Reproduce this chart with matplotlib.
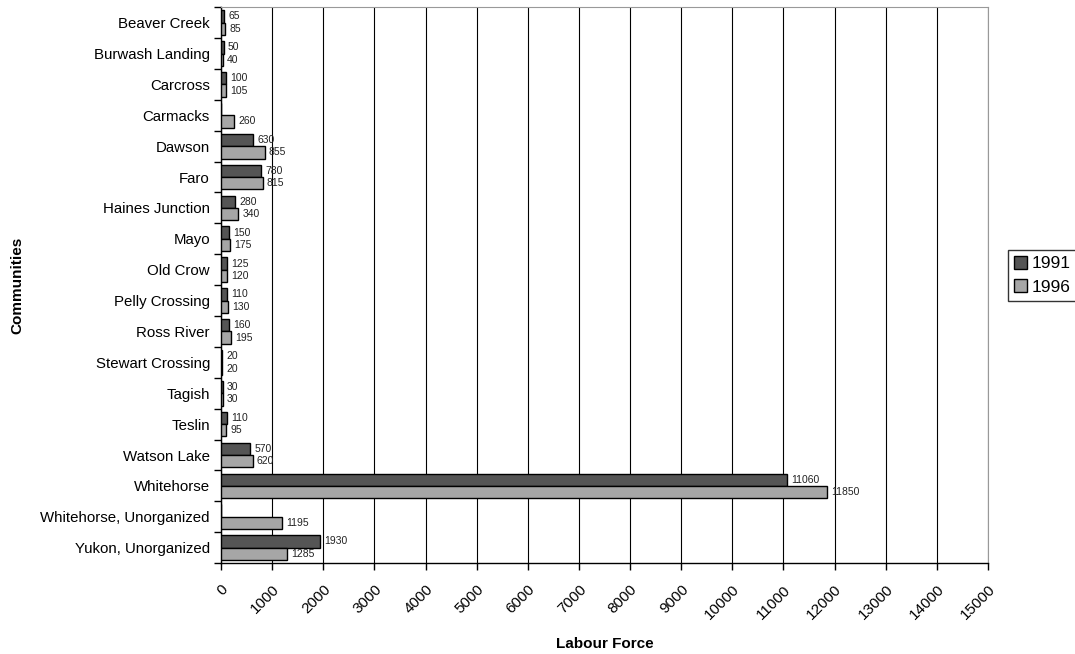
import numpy as np
import matplotlib
matplotlib.use("Agg")
import matplotlib.pyplot as plt
from matplotlib.patches import Patch

plt.rcParams["font.family"] = ["Liberation Sans", "DejaVu Sans"]

communities = [
    "Beaver Creek", "Burwash Landing", "Carcross", "Carmacks", "Dawson",
    "Faro", "Haines Junction", "Mayo", "Old Crow", "Pelly Crossing",
    "Ross River", "Stewart Crossing", "Tagish", "Teslin", "Watson Lake",
    "Whitehorse", "Whitehorse, Unorganized", "Yukon, Unorganized",
]
# None = no figure reported for that year
labour_1991 = [65, 50, 100, None, 630, 780, 280, 150, 125, 110, 160, 20, 30,
               110, 570, 11060, None, 1930]
labour_1996 = [85, 40, 105, 260, 855, 815, 340, 175, 120, 130, 195, 20, 30,
               95, 620, 11850, 1195, 1285]
x_ticks = list(range(0, 15001, 1000))

fig = plt.figure(figsize=(10.75, 6.54), dpi=100)
ax = fig.add_axes([0.2056, 0.139, 0.7135, 0.850])

y = np.arange(len(communities))
h = 0.4
v91 = np.array([np.nan if v is None else v for v in labour_1991], dtype=float)
v96 = np.array(labour_1996, dtype=float)

ax.barh(y - h / 2, np.nan_to_num(v91), height=h, color="#555555",
        edgecolor="black", linewidth=1, zorder=3)
ax.barh(y + h / 2, v96, height=h, color="#a6a6a6",
        edgecolor="black", linewidth=1, zorder=3)

for yi, v in zip(y, v91):
    if not np.isnan(v):
        ax.annotate(f"{int(v)}", (v, yi - h / 2), xytext=(3, 0),
                    textcoords="offset points", va="center", ha="left",
                    fontsize=7.5, color="#222222")
for yi, v in zip(y, v96):
    ax.annotate(f"{int(v)}", (v, yi + h / 2), xytext=(3, 0),
                textcoords="offset points", va="center", ha="left",
                fontsize=7.5, color="#222222")

ax.set_xlim(0, 15000)
ax.set_ylim(len(communities) - 0.5, -0.5)
ax.set_xticks(x_ticks)
ax.set_xticklabels([str(t) for t in x_ticks], rotation=45, ha="right",
                   rotation_mode="anchor", fontsize=11)
ax.tick_params(axis="x", length=5, width=1, pad=9)

# category labels centred, tick marks drawn between categories
ax.set_yticks(y)
ax.set_yticklabels(communities, fontsize=10.8)
ax.set_yticks(np.arange(-0.5, len(communities), 1), minor=True)
ax.tick_params(axis="y", which="major", length=0, pad=8)
ax.tick_params(axis="y", which="minor", length=5, width=1)

ax.grid(axis="x", color="black", linewidth=0.8, zorder=0)
ax.spines["top"].set_color("#999999")
ax.spines["right"].set_color("#999999")
ax.spines["left"].set_linewidth(1)
ax.spines["bottom"].set_linewidth(1)

ax.set_xlabel("Labour Force", fontsize=11, fontweight="bold")
ax.set_ylabel("Communities", fontsize=11, fontweight="bold")
ax.xaxis.set_label_coords(0.5, -0.133)
ax.yaxis.set_label_coords(-0.257, 0.5)

handles = [Patch(facecolor="#555555", edgecolor="black", label="1991"),
           Patch(facecolor="#a6a6a6", edgecolor="black", label="1996")]
fig.legend(handles=handles, loc="upper left", bbox_to_anchor=(0.938, 0.618),
           fontsize=12.5, frameon=True, fancybox=False, edgecolor="black",
           handlelength=0.75, handleheight=0.75, handletextpad=0.25,
           borderpad=0.35, labelspacing=0.45, borderaxespad=0)

fig.savefig("out.png", dpi=100)
